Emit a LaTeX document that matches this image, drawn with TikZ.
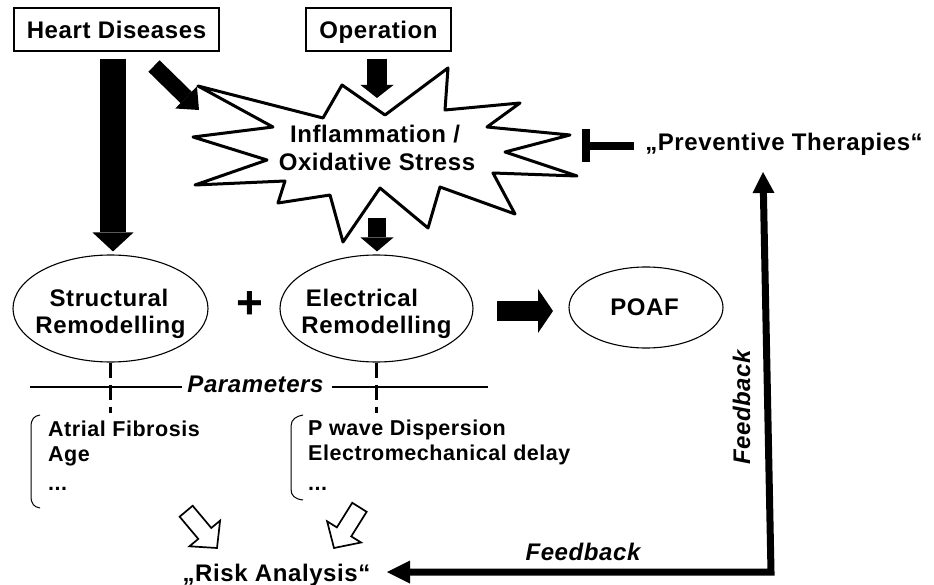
\documentclass[tikz,border=0pt]{standalone}
\usepackage{fontspec}
\setmainfont{Liberation Sans}[LetterSpace=2.5]
\usetikzlibrary{arrows.meta,shapes.geometric}
\newcommand{\fsz}[1]{\fontsize{#1}{#1}\selectfont}
\newcommand{\hollowarrow}[3]{%
  \begin{scope}[shift={(#1,#2)},rotate=#3]
    \draw[hollow] (0,0) -- (-19,20) -- (-19,8.5) -- (-48,8.5) -- (-48,-8.5) -- (-19,-8.5) -- (-19,-20) -- cycle;
  \end{scope}}
\begin{document}
\begin{tikzpicture}[x=1pt,y=-1pt,
  lbl/.style={font=\bfseries\fsz{24}, inner sep=0pt},
  itm/.style={font=\bfseries\fsz{21.5}, inner sep=0pt, anchor=base west},
  fbtxt/.style={font=\bfseries\itshape\fsz{24}, inner sep=0pt, anchor=base},
  box/.style={draw, line width=1.2pt, inner sep=0pt, text depth=0pt, font=\bfseries\fsz{24}},
  oval/.style={draw, ellipse, line width=1.1pt, inner sep=0pt},
  blkarrow/.style n args={3}{line width=#1, -{Triangle[width=#2, length=#3, line width=0pt]}},
  hollow/.style={line width=1.7pt, fill=white, line join=miter},
  dashline/.style={line width=3pt, dash pattern=on 15pt off 7pt},
  thinline/.style={line width=1.2pt},
  brack/.style={line width=1pt},
]
\useasboundingbox (0,0) rectangle (934,585);
\fill[white] (0,0) rectangle (934,585);

% top boxes
\node[box, minimum width=205pt, minimum height=43pt] (hd) at (116.5,29.5) {Heart Diseases};
\node[box, minimum width=145pt, minimum height=43pt] (op) at (378.5,29.5) {Operation};

% starburst
\draw[line width=3pt, line join=round, fill=white]
  (198,86) -- (323,118) -- (342,85) -- (385,115) -- (448,68) -- (445,110) -- (520,103)
  -- (487,127) -- (570,135) -- (505,152) -- (577,176) -- (493,173) -- (515,214)
  -- (440,187) -- (428,228) -- (380,188) -- (343,242) -- (330,195) -- (278,203)
  -- (285,181) -- (195,185) -- (267,160) -- (193,137) -- (273,127) -- cycle;
\node[lbl, anchor=base] (inf1) at (375,143) {Inflammation /};
\node[lbl, anchor=base] (inf2) at (377,171) {Oxidative Stress};

% ellipses
\node[oval, minimum width=195pt, minimum height=107pt] (sr) at (110.5,308.5) {};
\node[lbl, anchor=base] (sr1) at (109,306) {Structural};
\node[lbl, anchor=base] (sr2) at (110.5,333) {Remodelling};
\node[oval, minimum width=193pt, minimum height=107pt] (el) at (376.5,308.5) {};
\node[lbl, anchor=base] (el1) at (362,306) {Electrical};
\node[lbl, anchor=base] (el2) at (376.5,333) {Remodelling};
\node[oval, minimum width=154pt, minimum height=81pt] (poaf) at (646,307.5) {};
\node[lbl, anchor=base] (poaf1) at (644.5,315) {POAF};
\node[font=\bfseries\fsz{46}, inner sep=0pt] (plus) at (250,305) {+};

% solid block arrows
\coordinate (hdS) at ([xshift=-3.5pt]hd.south);
\draw[blkarrow={26pt}{41pt}{19pt}, shorten <=7pt, shorten >=3pt] (hdS) -- (hdS |- sr.north);
\coordinate (dA) at (154,66);
\coordinate (dB) at (199,110);
\draw[blkarrow={16pt}{31pt}{18pt}] (dA) -- (dB);
\coordinate (opT) at (377,98);
\draw[blkarrow={20pt}{33pt}{13pt}, shorten <=7pt] (op.south -| opT) -- (opT);
\coordinate (stB) at (377,218);
\draw[blkarrow={18pt}{33pt}{14pt}, shorten >=3pt] (stB) -- (stB |- el.north);
\coordinate (eA) at (497,311);
\coordinate (eB) at (553,311);
\draw[blkarrow={20pt}{44pt}{15pt}] (eA) -- (eB);

% parameters line
\node[fbtxt] (par) at (255.5,392) {Parameters};
\coordinate (parL) at (30,387);
\coordinate (parR) at (488,387);
\coordinate (pw) at ([xshift=-5pt]par.west);
\coordinate (pe) at ([xshift=8pt]par.east);
\draw[thinline] (parL) -- (pw |- parL);
\draw[thinline] (pe |- parR) -- (parR);
\draw[dashline] (sr.south) -- ++(0,50);
\draw[dashline] (el.south) -- ++(0,50);

% brackets
\draw[brack] (40,415) .. controls (34,416) and (31,419) .. (31,427) -- (31,496) .. controls (31,504) and (34,507) .. (40,508);
\draw[brack] (303,415) .. controls (297,416) and (291,419) .. (291,426) -- (291,489) .. controls (291,496) and (295,499) .. (303,500);

% lists
\node[itm] (af) at (48,436) {Atrial Fibrosis};
\node[itm] (age) at (48,461) {Age};
\node[itm] (d1) at (48,490) {...};
\node[itm] (pwd) at (308,435) {P wave Dispersion};
\node[itm] (emd) at (308,460) {Electromechanical delay};
\node[itm] (d2) at (308,490) {...};

% hollow arrows
\hollowarrow{217}{548}{-50}
\hollowarrow{334}{548}{-122}

% risk analysis and feedback
\node[lbl, anchor=base] (ra) at (276.5,581) {„Risk Analysis“};
\node[lbl, anchor=base] (pt) at (784,151) {„Preventive Therapies“};
\coordinate (fbc) at (771,572);
\coordinate (raT) at (387,572);
\coordinate (ptT) at (763,172);
\draw[line width=7pt, line join=miter,
  {Triangle[width=23pt,length=23pt,line width=0pt]}-{Triangle[width=22pt,length=21pt,line width=0pt]}]
  (raT) -- (fbc) -- (ptT);
\node[fbtxt] (fb1) at (583,560) {Feedback};
\node[fbtxt, rotate=90] (fb2) at (750,407.5) {Feedback};

% inhibition
\coordinate (inhA) at (634,146);
\coordinate (inhB) at (586,146);
\draw[line width=8pt] (inhA) -- (inhB);
\draw[line width=8pt] ([yshift=16.5pt]inhB) -- ([yshift=-16.5pt]inhB);
\end{tikzpicture}
\end{document}
